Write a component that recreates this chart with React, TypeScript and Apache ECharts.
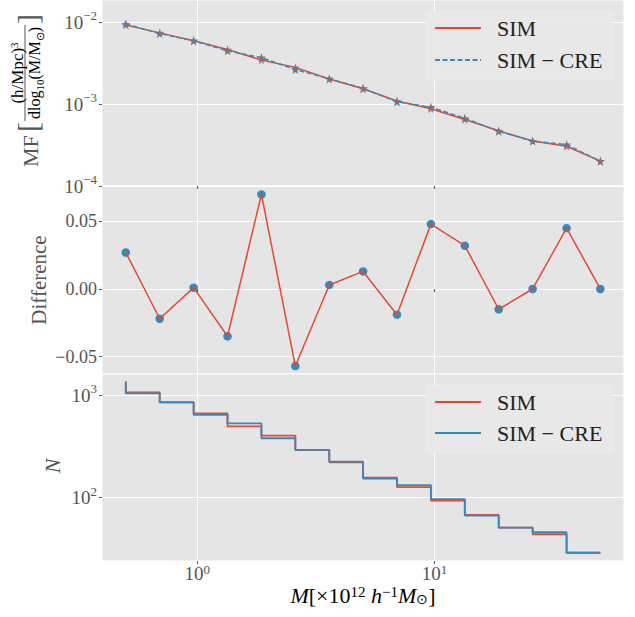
import React, { useEffect, useRef } from 'react';
import * as echarts from 'echarts';

const MASS = [0.5, 0.695, 0.966, 1.342, 1.865, 2.592, 3.603, 5.0, 6.949, 9.657, 13.42, 18.65, 25.92, 36.03, 50.0];
const MF_SIM = [9.27e-3, 7.42e-3, 5.94e-3, 4.64e-3, 3.45e-3, 2.81e-3, 2.03e-3, 1.54e-3, 1.09e-3, 8.8e-4, 6.5e-4, 4.72e-4, 3.54e-4, 3.06e-4, 2.01e-4];
const MF_CRE = [9.52e-3, 7.26e-3, 5.95e-3, 4.48e-3, 3.69e-3, 2.65e-3, 2.04e-3, 1.56e-3, 1.07e-3, 9.2e-4, 6.7e-4, 4.65e-4, 3.54e-4, 3.2e-4, 2.01e-4];
const DIFF = [0.027, -0.022, 0.001, -0.035, 0.070, -0.057, 0.003, 0.013, -0.019, 0.048, 0.032, -0.015, 0.0, 0.045, 0.0];
const N_SIM = [1335, 1068, 855, 668, 497, 404, 292, 222, 157, 127, 94, 68, 51, 44, 29];
const N_CRE = [1370, 1045, 856, 644, 532, 381, 293, 225, 154, 133, 97, 67, 51, 46, 29];

const X_TICKS = [1, 10];
const MF_TICKS = [1e-4, 1e-3, 1e-2];
const DIFF_TICKS = [-0.05, 0, 0.05];
const N_TICKS = [100, 1000];
const LEGEND_TOP = ['SIM', 'SIM − CRE'];
const LEGEND_BOTTOM = ['SIM_N', 'SIM − CRE_N'];

const FONT = 'Liberation Serif';
const GREY = '#555555';
const RED = '#E24A33';
const BLUE = '#348ABD';
const PURPLE = '#988ED5';
const DARKGREY = '#777777';
const BG = '#E5E5E5';

const STAR = 'path://M0,-10 L2.35,-3.24 L9.51,-3.09 L3.8,1.24 L5.88,8.09 L0,4 L-5.88,8.09 L-3.8,1.24 L-9.51,-3.09 L-2.35,-3.24 Z';

const zip = (xs: number[], ys: number[]) => xs.map((x, i) => [x, ys[i]]);

const pow10Label = (v: number) => {
  const l = Math.log10(v);
  const e = Math.round(l);
  if (Math.abs(l - e) > 1e-6) return '';
  const s = e < 0 ? '−' + -e : String(e);
  return `{b|10}{s|${s}}`;
};

const powRich = {
  b: { fontSize: 19, fontFamily: FONT, color: GREY, lineHeight: 26 },
  s: { fontSize: 13, fontFamily: FONT, color: GREY, lineHeight: 13, verticalAlign: 'top' },
};

const xRich = {
  b: { fontSize: 19, fontFamily: FONT, color: GREY, lineHeight: 20 },
  s: { fontSize: 13, fontFamily: FONT, color: GREY, lineHeight: 9, verticalAlign: 'top' },
};

const diffLabel = (v: number) => {
  const k = Math.round(v / 0.05);
  if (Math.abs(v - k * 0.05) > 1e-6) return '';
  const a = Math.abs(k * 0.05).toFixed(2);
  return k < 0 ? '−' + a : a;
};

const GRID_LEFT = 102;
const GRID_RIGHT = 11;

const legendBase = {
  orient: 'vertical', left: 426, selectedMode: false,
  itemWidth: 46, itemHeight: 14, padding: [5, 10, 8, 8],
  itemStyle: { opacity: 0 },
  backgroundColor: 'rgba(232,232,232,0.9)', borderColor: '#ececec', borderWidth: 1, borderRadius: 4,
  textStyle: { fontFamily: FONT, fontSize: 22, color: '#222', lineHeight: 24, padding: [0, 0, 0, 11] },
};

const App: React.FC = () => {
  const ref = useRef<HTMLDivElement>(null);
  useEffect(() => {
    document.body.style.margin = '0';
    if (!ref.current) return;
    const chart = echarts.init(ref.current, null, { renderer: 'svg' });

    const xBase = (idx: number, showLabels: boolean) => ({
      type: 'log',
      gridIndex: idx,
      min: 0.397,
      max: 62.9,
      axisLine: { show: false },
      axisTick: { show: true, length: 3, customValues: X_TICKS, lineStyle: { color: GREY } },
      axisLabel: {
        show: showLabels,
        customValues: X_TICKS,
        formatter: pow10Label,
        rich: xRich,
        margin: 2,
      },
      splitLine: { show: true, lineStyle: { color: '#ffffff', width: 1 } },
      minorTick: { show: false },
    });

    const yCommon = {
      axisLine: { show: false },
      splitLine: { show: true, lineStyle: { color: '#ffffff', width: 1 } },
    };

    const option: any = {
      animation: false,
      backgroundColor: '#ffffff',
      grid: [
        { left: GRID_LEFT, right: GRID_RIGHT, top: 0, height: 186, show: true, backgroundColor: BG, borderColor: '#ffffff', borderWidth: 1 },
        { left: GRID_LEFT, right: GRID_RIGHT, top: 186, height: 188, show: true, backgroundColor: BG, borderColor: '#ffffff', borderWidth: 1 },
        { left: GRID_LEFT, right: GRID_RIGHT, top: 374, height: 187, show: true, backgroundColor: BG, borderColor: '#ffffff', borderWidth: 1 },
      ],
      xAxis: [xBase(0, false), xBase(1, false), xBase(2, true)],
      yAxis: [
        {
          type: 'log', gridIndex: 0, min: 1e-4, max: 0.0187, ...yCommon,
          axisTick: { show: true, length: 3, customValues: MF_TICKS, lineStyle: { color: GREY } },
          axisLabel: { customValues: MF_TICKS, formatter: pow10Label, rich: powRich, margin: 5 },
        },
        {
          type: 'value', gridIndex: 1, min: -0.0629, max: 0.0762, ...yCommon,
          axisTick: { show: true, length: 3, customValues: DIFF_TICKS, lineStyle: { color: GREY } },
          axisLabel: { customValues: DIFF_TICKS, formatter: diffLabel, fontFamily: FONT, fontSize: 18, color: GREY, margin: 5 },
        },
        {
          type: 'log', gridIndex: 2, min: 24.1, max: 1616, ...yCommon,
          axisTick: { show: true, length: 3, customValues: N_TICKS, lineStyle: { color: GREY } },
          axisLabel: { customValues: N_TICKS, formatter: pow10Label, rich: powRich, margin: 5 },
        },
      ],
      legend: [
        { ...legendBase, data: LEGEND_TOP, top: 11, itemGap: 8 },
        { ...legendBase, data: LEGEND_BOTTOM, top: 385, itemGap: 7, formatter: (n: string) => n.replace('_N', '') },
      ],
      series: [
        {
          name: 'SIM', type: 'line', xAxisIndex: 0, yAxisIndex: 0, data: zip(MASS, MF_SIM),
          symbol: 'none', color: RED, lineStyle: { color: RED, width: 1.5 },
        },
        {
          name: 'SIM − CRE', type: 'line', xAxisIndex: 0, yAxisIndex: 0, data: zip(MASS, MF_CRE),
          symbol: 'none', color: BLUE, lineStyle: { color: BLUE, width: 1.5, type: [5, 2.5] },
        },
        {
          type: 'scatter', xAxisIndex: 0, yAxisIndex: 0, data: zip(MASS, MF_SIM),
          symbol: STAR, symbolSize: 9, itemStyle: { color: PURPLE, opacity: 1 },
        },
        {
          type: 'scatter', xAxisIndex: 0, yAxisIndex: 0, data: zip(MASS, MF_CRE),
          symbol: STAR, symbolSize: 9, itemStyle: { color: DARKGREY, opacity: 1 },
        },
        {
          type: 'line', xAxisIndex: 1, yAxisIndex: 1, data: zip(MASS, DIFF),
          symbol: 'none', lineStyle: { color: RED, width: 1.5 },
        },
        {
          type: 'scatter', xAxisIndex: 1, yAxisIndex: 1, data: zip(MASS, DIFF),
          symbol: 'circle', symbolSize: 8.5, itemStyle: { color: BLUE, opacity: 1 },
        },
        {
          name: 'SIM_N', type: 'line', xAxisIndex: 2, yAxisIndex: 2, data: zip(MASS, N_SIM), step: 'start',
          symbol: 'none', color: RED, lineStyle: { color: RED, width: 1.8 },
        },
        {
          name: 'SIM − CRE_N', type: 'line', xAxisIndex: 2, yAxisIndex: 2, data: zip(MASS, N_CRE), step: 'start',
          symbol: 'none', color: BLUE, lineStyle: { color: BLUE, width: 1.8 },
        },
      ],
      graphic: [
        {
          type: 'group', x: 30, y: 167, rotation: Math.PI / 2,
          children: [
            { type: 'text', x: 0, y: 0, style: { text: 'MF', fontFamily: FONT, fontSize: 22, fill: GREY, align: 'left', verticalAlign: 'middle' } },
            { type: 'text', x: 35, y: -3, style: { text: '[', fontFamily: FONT, fontSize: 30, fill: GREY, align: 'left', verticalAlign: 'middle' } },
            { type: 'line', shape: { x1: 46, y1: -5, x2: 142, y2: -5 }, style: { stroke: GREY, lineWidth: 1 } },
            {
              type: 'text', x: 94, y: -13,
              style: {
                text: '{a|(h/Mpc)}{s|3}', align: 'center', verticalAlign: 'middle',
                rich: {
                  a: { fontFamily: FONT, fontSize: 17, color: GREY, lineHeight: 18 },
                  s: { fontFamily: FONT, fontSize: 11, color: GREY, lineHeight: 11, verticalAlign: 'top' },
                },
              },
            },
            {
              type: 'text', x: 94, y: 4,
              style: {
                text: '{a|dlog}{b|10}{a|(M/M}{b|⊙}{a|)}', align: 'center', verticalAlign: 'middle',
                rich: {
                  a: { fontFamily: FONT, fontSize: 16, color: GREY, lineHeight: 18 },
                  b: { fontFamily: FONT, fontSize: 11, color: GREY, lineHeight: 22, verticalAlign: 'bottom' },
                },
              },
            },
            { type: 'text', x: 143, y: -3, style: { text: ']', fontFamily: FONT, fontSize: 30, fill: GREY, align: 'left', verticalAlign: 'middle' } },
          ],
        },
        {
          type: 'text', x: 39, y: 280, rotation: Math.PI / 2,
          style: { text: 'Difference', fontFamily: FONT, fontSize: 21, fill: GREY, align: 'center', verticalAlign: 'middle' },
        },
        {
          type: 'text', x: 52, y: 466, rotation: Math.PI / 2,
          style: { text: 'N', fontFamily: FONT, fontStyle: 'italic', fontSize: 22, fill: GREY, align: 'center', verticalAlign: 'middle' },
        },
        {
          type: 'text', x: 363, y: 595,
          style: {
            text: '{i|M}{r|[×10}{p|12}{r| }{i|h}{p|−1}{i|M}{b|⊙}{r|]}',
            align: 'center', verticalAlign: 'middle',
            rich: {
              i: { fontFamily: FONT, fontStyle: 'italic', fontSize: 22, color: GREY, lineHeight: 22 },
              r: { fontFamily: FONT, fontSize: 22, color: GREY, lineHeight: 22 },
              p: { fontFamily: FONT, fontSize: 15, color: GREY, lineHeight: 10, verticalAlign: 'top' },
              b: { fontFamily: FONT, fontSize: 14, color: GREY, lineHeight: 14, verticalAlign: 'bottom' },
            },
          },
        },
      ],
    };

    chart.setOption(option);
    return () => chart.dispose();
  }, []);

  return <div ref={ref} style={{ width: 635, height: 617 }} />;
};

export default App;
